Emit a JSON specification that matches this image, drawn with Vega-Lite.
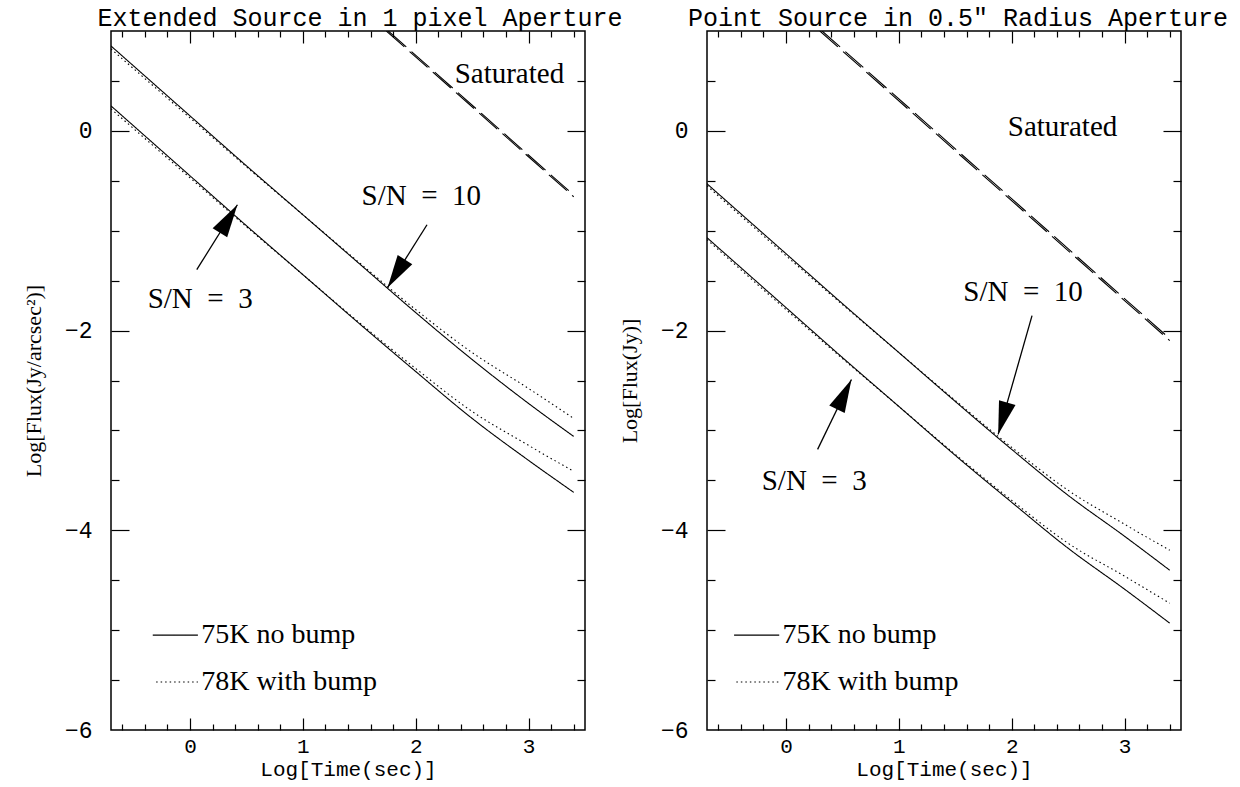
{
  "$schema": "https://vega.github.io/schema/vega-lite/v6.json",
  "autosize": {"type": "pad"},
  "padding": {"left": 21, "top": 5, "right": 0, "bottom": 0},
  "background": "white",
  "spacing": 122,
  "bounds": "flush",
  "datasets": {
    "curves": [
      {"panel": "ext", "model": "75K no bump", "sn": "10", "x": -0.7, "y": 0.85},
      {"panel": "ext", "model": "75K no bump", "sn": "10", "x": 0, "y": 0.15},
      {"panel": "ext", "model": "75K no bump", "sn": "10", "x": 0.5, "y": -0.35},
      {"panel": "ext", "model": "75K no bump", "sn": "10", "x": 1, "y": -0.84},
      {"panel": "ext", "model": "75K no bump", "sn": "10", "x": 1.5, "y": -1.33},
      {"panel": "ext", "model": "75K no bump", "sn": "10", "x": 2, "y": -1.82},
      {"panel": "ext", "model": "75K no bump", "sn": "10", "x": 2.5, "y": -2.29},
      {"panel": "ext", "model": "75K no bump", "sn": "10", "x": 3, "y": -2.73},
      {"panel": "ext", "model": "75K no bump", "sn": "10", "x": 3.4, "y": -3.06},
      {"panel": "ext", "model": "78K with bump", "sn": "10", "x": -0.7, "y": 0.82},
      {"panel": "ext", "model": "78K with bump", "sn": "10", "x": 0, "y": 0.13},
      {"panel": "ext", "model": "78K with bump", "sn": "10", "x": 0.5, "y": -0.36},
      {"panel": "ext", "model": "78K with bump", "sn": "10", "x": 1, "y": -0.84},
      {"panel": "ext", "model": "78K with bump", "sn": "10", "x": 1.5, "y": -1.32},
      {"panel": "ext", "model": "78K with bump", "sn": "10", "x": 2, "y": -1.79},
      {"panel": "ext", "model": "78K with bump", "sn": "10", "x": 2.5, "y": -2.22},
      {"panel": "ext", "model": "78K with bump", "sn": "10", "x": 3, "y": -2.58},
      {"panel": "ext", "model": "78K with bump", "sn": "10", "x": 3.4, "y": -2.88},
      {"panel": "ext", "model": "75K no bump", "sn": "3", "x": -0.7, "y": 0.25},
      {"panel": "ext", "model": "75K no bump", "sn": "3", "x": 0, "y": -0.45},
      {"panel": "ext", "model": "75K no bump", "sn": "3", "x": 0.5, "y": -0.95},
      {"panel": "ext", "model": "75K no bump", "sn": "3", "x": 1, "y": -1.44},
      {"panel": "ext", "model": "75K no bump", "sn": "3", "x": 1.5, "y": -1.93},
      {"panel": "ext", "model": "75K no bump", "sn": "3", "x": 2, "y": -2.41},
      {"panel": "ext", "model": "75K no bump", "sn": "3", "x": 2.5, "y": -2.88},
      {"panel": "ext", "model": "75K no bump", "sn": "3", "x": 3, "y": -3.3},
      {"panel": "ext", "model": "75K no bump", "sn": "3", "x": 3.4, "y": -3.62},
      {"panel": "ext", "model": "78K with bump", "sn": "3", "x": -0.7, "y": 0.22},
      {"panel": "ext", "model": "78K with bump", "sn": "3", "x": 0, "y": -0.47},
      {"panel": "ext", "model": "78K with bump", "sn": "3", "x": 0.5, "y": -0.96},
      {"panel": "ext", "model": "78K with bump", "sn": "3", "x": 1, "y": -1.44},
      {"panel": "ext", "model": "78K with bump", "sn": "3", "x": 1.5, "y": -1.92},
      {"panel": "ext", "model": "78K with bump", "sn": "3", "x": 2, "y": -2.38},
      {"panel": "ext", "model": "78K with bump", "sn": "3", "x": 2.5, "y": -2.81},
      {"panel": "ext", "model": "78K with bump", "sn": "3", "x": 3, "y": -3.15},
      {"panel": "ext", "model": "78K with bump", "sn": "3", "x": 3.4, "y": -3.41},
      {"panel": "pt", "model": "75K no bump", "sn": "10", "x": -0.7, "y": -0.53},
      {"panel": "pt", "model": "75K no bump", "sn": "10", "x": 0, "y": -1.23},
      {"panel": "pt", "model": "75K no bump", "sn": "10", "x": 0.5, "y": -1.73},
      {"panel": "pt", "model": "75K no bump", "sn": "10", "x": 1, "y": -2.22},
      {"panel": "pt", "model": "75K no bump", "sn": "10", "x": 1.5, "y": -2.71},
      {"panel": "pt", "model": "75K no bump", "sn": "10", "x": 2, "y": -3.19},
      {"panel": "pt", "model": "75K no bump", "sn": "10", "x": 2.5, "y": -3.65},
      {"panel": "pt", "model": "75K no bump", "sn": "10", "x": 3, "y": -4.06},
      {"panel": "pt", "model": "75K no bump", "sn": "10", "x": 3.4, "y": -4.4},
      {"panel": "pt", "model": "78K with bump", "sn": "10", "x": -0.7, "y": -0.55},
      {"panel": "pt", "model": "78K with bump", "sn": "10", "x": 0, "y": -1.25},
      {"panel": "pt", "model": "78K with bump", "sn": "10", "x": 0.5, "y": -1.74},
      {"panel": "pt", "model": "78K with bump", "sn": "10", "x": 1, "y": -2.22},
      {"panel": "pt", "model": "78K with bump", "sn": "10", "x": 1.5, "y": -2.7},
      {"panel": "pt", "model": "78K with bump", "sn": "10", "x": 2, "y": -3.17},
      {"panel": "pt", "model": "78K with bump", "sn": "10", "x": 2.5, "y": -3.6},
      {"panel": "pt", "model": "78K with bump", "sn": "10", "x": 3, "y": -3.94},
      {"panel": "pt", "model": "78K with bump", "sn": "10", "x": 3.4, "y": -4.2},
      {"panel": "pt", "model": "75K no bump", "sn": "3", "x": -0.7, "y": -1.07},
      {"panel": "pt", "model": "75K no bump", "sn": "3", "x": 0, "y": -1.77},
      {"panel": "pt", "model": "75K no bump", "sn": "3", "x": 0.5, "y": -2.27},
      {"panel": "pt", "model": "75K no bump", "sn": "3", "x": 1, "y": -2.76},
      {"panel": "pt", "model": "75K no bump", "sn": "3", "x": 1.5, "y": -3.25},
      {"panel": "pt", "model": "75K no bump", "sn": "3", "x": 2, "y": -3.72},
      {"panel": "pt", "model": "75K no bump", "sn": "3", "x": 2.5, "y": -4.18},
      {"panel": "pt", "model": "75K no bump", "sn": "3", "x": 3, "y": -4.59},
      {"panel": "pt", "model": "75K no bump", "sn": "3", "x": 3.4, "y": -4.93},
      {"panel": "pt", "model": "78K with bump", "sn": "3", "x": -0.7, "y": -1.09},
      {"panel": "pt", "model": "78K with bump", "sn": "3", "x": 0, "y": -1.79},
      {"panel": "pt", "model": "78K with bump", "sn": "3", "x": 0.5, "y": -2.28},
      {"panel": "pt", "model": "78K with bump", "sn": "3", "x": 1, "y": -2.76},
      {"panel": "pt", "model": "78K with bump", "sn": "3", "x": 1.5, "y": -3.24},
      {"panel": "pt", "model": "78K with bump", "sn": "3", "x": 2, "y": -3.7},
      {"panel": "pt", "model": "78K with bump", "sn": "3", "x": 2.5, "y": -4.13},
      {"panel": "pt", "model": "78K with bump", "sn": "3", "x": 3, "y": -4.46},
      {"panel": "pt", "model": "78K with bump", "sn": "3", "x": 3.4, "y": -4.73}
    ],
    "saturated": [
      {"panel": "ext", "model": "75K no bump", "x": 1.757, "y": 1},
      {"panel": "ext", "model": "75K no bump", "x": 3.4, "y": -0.643},
      {"panel": "ext", "model": "78K with bump", "x": 1.74, "y": 1},
      {"panel": "ext", "model": "78K with bump", "x": 3.4, "y": -0.66},
      {"panel": "pt", "model": "75K no bump", "x": 0.32, "y": 1},
      {"panel": "pt", "model": "75K no bump", "x": 3.4, "y": -2.08},
      {"panel": "pt", "model": "78K with bump", "x": 0.3, "y": 1},
      {"panel": "pt", "model": "78K with bump", "x": 3.4, "y": -2.1}
    ],
    "legendLines": [
      {"panel": "ext", "model": "75K no bump", "x": -0.33, "y": -5.05},
      {"panel": "ext", "model": "75K no bump", "x": 0.07, "y": -5.05},
      {"panel": "ext", "model": "78K with bump", "x": -0.3, "y": -5.52},
      {"panel": "ext", "model": "78K with bump", "x": 0.07, "y": -5.52},
      {"panel": "pt", "model": "75K no bump", "x": -0.46, "y": -5.05},
      {"panel": "pt", "model": "75K no bump", "x": -0.06, "y": -5.05},
      {"panel": "pt", "model": "78K with bump", "x": -0.44, "y": -5.52},
      {"panel": "pt", "model": "78K with bump", "x": -0.06, "y": -5.52}
    ],
    "legendText": [
      {"panel": "ext", "text": "75K no bump", "x": 0.1, "y": -5.05},
      {"panel": "ext", "text": "78K with bump", "x": 0.1, "y": -5.52},
      {"panel": "pt", "text": "75K no bump", "x": -0.03, "y": -5.05},
      {"panel": "pt", "text": "78K with bump", "x": -0.03, "y": -5.52}
    ],
    "notes": [
      {"panel": "ext", "text": "Saturated", "x": 2.83, "y": 0.57},
      {"panel": "ext", "text": "S/N\u2002=\u200210", "x": 2.05, "y": -0.65},
      {"panel": "ext", "text": "S/N\u2002=\u20023", "x": 0.09, "y": -1.68},
      {"panel": "pt", "text": "Saturated", "x": 2.45, "y": 0.04},
      {"panel": "pt", "text": "S/N\u2002=\u200210", "x": 2.1, "y": -1.61},
      {"panel": "pt", "text": "S/N\u2002=\u20023", "x": 0.25, "y": -3.51}
    ],
    "arrows": [
      {"panel": "ext", "sn": "10", "headX": 1.75, "headY": -1.57, "tailX": 2.1, "tailY": -0.94},
      {"panel": "ext", "sn": "3", "headX": 0.42, "headY": -0.74, "tailX": 0.06, "tailY": -1.39},
      {"panel": "pt", "sn": "10", "headX": 1.88, "headY": -3.04, "tailX": 2.18, "tailY": -1.85},
      {"panel": "pt", "sn": "3", "headX": 0.58, "headY": -2.49, "tailX": 0.28, "tailY": -3.19}
    ]
  },
  "hconcat": [
    {
      "width": 474,
      "height": 699,
      "title": {"text": "Extended Source in 1 pixel Aperture", "font": "Liberation Mono", "fontSize": 25, "fontWeight": "normal", "color": "black", "offset": -21, "baseline": "alphabetic", "anchor": "middle", "frame": "group", "dx": 12},
      "resolve": {"axis": {"x": "independent", "y": "independent"}},
      "layer": [
        {
          "data": {"name": "curves"},
          "transform": [{"filter": "datum.panel === 'ext'"}],
          "mark": {"type": "line", "color": "black", "strokeWidth": 1.1, "clip": true, "interpolate": "monotone"},
          "encoding": {
            "x": {"field": "x", "type": "quantitative", "scale": {"domain": [-0.7, 3.5], "nice": false, "zero": false},
              "axis": {"orient": "bottom", "values": [0, 1, 2, 3], "format": "d", "ticks": false,
                "labelFont": "Liberation Mono", "labelFontSize": 21, "labelPadding": 5, "labelOverlap": false, "labelFlush": false,
                "title": "Log[Time(sec)]", "titleFont": "Liberation Mono", "titleFontSize": 21, "titleFontWeight": "normal", "titlePadding": 2}},
            "y": {"field": "y", "type": "quantitative", "scale": {"domain": [-6, 1], "nice": false, "zero": false},
              "axis": {"orient": "left", "values": [-6, -4, -2, 0], "format": "d", "ticks": false,
                "labelFont": "Liberation Mono", "labelFontSize": 23, "labelPadding": 19, "labelOverlap": false, "labelFlush": false,
                "title": "Log[Flux(Jy/arcsec²)]", "titleFont": "Liberation Serif", "titleFontSize": 22, "titleFontWeight": "normal", "titlePadding": 19}},
            "detail": {"field": "sn"},
            "strokeDash": {"field": "model", "type": "nominal", "scale": {"domain": ["75K no bump", "78K with bump"], "range": [[1, 0], [1.5, 3]]}, "legend": null}
          }
        },
        {
          "data": {"name": "saturated"},
          "transform": [{"filter": "datum.panel === 'ext'"}],
          "mark": {"type": "line", "color": "black", "strokeWidth": 1.1, "strokeDash": [24, 7], "clip": true},
          "encoding": {
            "x": {"field": "x", "type": "quantitative", "scale": {"domain": [-0.7, 3.5], "nice": false, "zero": false},
              "axis": {"orient": "top", "values": [0, 1, 2, 3], "labels": false, "title": null, "tickSize": -12}},
            "y": {"field": "y", "type": "quantitative", "scale": {"domain": [-6, 1], "nice": false, "zero": false},
              "axis": {"orient": "right", "values": [-4, -2, 0], "labels": false, "title": null, "tickSize": -18}},
            "detail": {"field": "model"}
          }
        },
        {
          "data": {"name": "legendLines"},
          "transform": [{"filter": "datum.panel === 'ext'"}],
          "mark": {"type": "line", "color": "black", "strokeWidth": 1.1},
          "encoding": {
            "x": {"field": "x", "type": "quantitative", "scale": {"domain": [-0.7, 3.5], "nice": false, "zero": false},
              "axis": {"orient": "bottom", "values": [0, 1, 2, 3], "labels": false, "title": null, "tickSize": -12}},
            "y": {"field": "y", "type": "quantitative", "scale": {"domain": [-6, 1], "nice": false, "zero": false},
              "axis": {"orient": "left", "values": [-4, -2, 0], "labels": false, "title": null, "tickSize": -18}},
            "strokeDash": {"field": "model", "type": "nominal", "scale": {"domain": ["75K no bump", "78K with bump"], "range": [[1, 0], [1.5, 3]]}, "legend": null}
          }
        },
        {
          "data": {"name": "arrows"},
          "transform": [{"filter": "datum.panel === 'ext'"}],
          "mark": {"type": "rule", "color": "black", "strokeWidth": 1.3},
          "encoding": {
            "x": {"field": "tailX", "type": "quantitative", "scale": {"domain": [-0.7, 3.5], "nice": false, "zero": false},
              "axis": {"orient": "bottom", "values": [-0.6, -0.4, -0.2, 0.2, 0.4, 0.6, 0.8, 1.2, 1.4, 1.6, 1.8, 2.2, 2.4, 2.6, 2.8, 3.2, 3.4], "labels": false, "title": null, "tickSize": -6}},
            "y": {"field": "tailY", "type": "quantitative", "scale": {"domain": [-6, 1], "nice": false, "zero": false},
              "axis": {"orient": "left", "values": [-5.5, -5, -4.5, -3.5, -3, -2.5, -1.5, -1, -0.5, 0.5], "labels": false, "title": null, "tickSize": -8}},
            "x2": {"field": "headX"},
            "y2": {"field": "headY"}
          }
        },
        {
          "data": {"name": "arrows"},
          "transform": [{"filter": "datum.panel === 'ext' && datum.sn === '10'"}],
          "mark": {"type": "point", "shape": "M0,0L-0.26,1L0.26,1Z", "filled": true, "color": "black", "opacity": 1, "size": 4356, "angle": 212},
          "encoding": {
            "x": {"field": "headX", "type": "quantitative", "scale": {"domain": [-0.7, 3.5], "nice": false, "zero": false},
              "axis": {"orient": "top", "values": [-0.6, -0.4, -0.2, 0.2, 0.4, 0.6, 0.8, 1.2, 1.4, 1.6, 1.8, 2.2, 2.4, 2.6, 2.8, 3.2, 3.4], "labels": false, "title": null, "tickSize": -6}},
            "y": {"field": "headY", "type": "quantitative", "scale": {"domain": [-6, 1], "nice": false, "zero": false},
              "axis": {"orient": "right", "values": [-5.5, -5, -4.5, -3.5, -3, -2.5, -1.5, -1, -0.5, 0.5], "labels": false, "title": null, "tickSize": -8}}
          }
        },
        {
          "data": {"name": "arrows"},
          "transform": [{"filter": "datum.panel === 'ext' && datum.sn === '3'"}],
          "mark": {"type": "point", "shape": "M0,0L-0.26,1L0.26,1Z", "filled": true, "color": "black", "opacity": 1, "size": 4356, "angle": 32},
          "encoding": {
            "x": {"field": "headX", "type": "quantitative", "scale": {"domain": [-0.7, 3.5], "nice": false, "zero": false}, "axis": null},
            "y": {"field": "headY", "type": "quantitative", "scale": {"domain": [-6, 1], "nice": false, "zero": false}, "axis": null}
          }
        },
        {
          "data": {"name": "notes"},
          "transform": [{"filter": "datum.panel === 'ext'"}],
          "mark": {"type": "text", "font": "Liberation Serif", "fontSize": 29, "align": "center", "baseline": "middle", "color": "black"},
          "encoding": {
            "x": {"field": "x", "type": "quantitative", "scale": {"domain": [-0.7, 3.5], "nice": false, "zero": false}, "axis": null},
            "y": {"field": "y", "type": "quantitative", "scale": {"domain": [-6, 1], "nice": false, "zero": false}, "axis": null},
            "text": {"field": "text"}
          }
        },
        {
          "data": {"name": "legendText"},
          "transform": [{"filter": "datum.panel === 'ext'"}],
          "mark": {"type": "text", "font": "Liberation Serif", "fontSize": 28, "align": "left", "baseline": "middle", "color": "black"},
          "encoding": {
            "x": {"field": "x", "type": "quantitative", "scale": {"domain": [-0.7, 3.5], "nice": false, "zero": false}, "axis": null},
            "y": {"field": "y", "type": "quantitative", "scale": {"domain": [-6, 1], "nice": false, "zero": false}, "axis": null},
            "text": {"field": "text"}
          }
        }
      ]
    },
    {
      "width": 474,
      "height": 699,
      "title": {"text": "Point Source in 0.5″ Radius Aperture", "font": "Liberation Mono", "fontSize": 25, "fontWeight": "normal", "color": "black", "offset": -21, "baseline": "alphabetic", "anchor": "middle", "frame": "group", "dx": 14},
      "resolve": {"axis": {"x": "independent", "y": "independent"}},
      "layer": [
        {
          "data": {"name": "curves"},
          "transform": [{"filter": "datum.panel === 'pt'"}],
          "mark": {"type": "line", "color": "black", "strokeWidth": 1.1, "clip": true, "interpolate": "monotone"},
          "encoding": {
            "x": {"field": "x", "type": "quantitative", "scale": {"domain": [-0.7, 3.5], "nice": false, "zero": false},
              "axis": {"orient": "bottom", "values": [0, 1, 2, 3], "format": "d", "ticks": false,
                "labelFont": "Liberation Mono", "labelFontSize": 21, "labelPadding": 5, "labelOverlap": false, "labelFlush": false,
                "title": "Log[Time(sec)]", "titleFont": "Liberation Mono", "titleFontSize": 21, "titleFontWeight": "normal", "titlePadding": 2}},
            "y": {"field": "y", "type": "quantitative", "scale": {"domain": [-6, 1], "nice": false, "zero": false},
              "axis": {"orient": "left", "values": [-6, -4, -2, 0], "format": "d", "ticks": false,
                "labelFont": "Liberation Mono", "labelFontSize": 23, "labelPadding": 19, "labelOverlap": false, "labelFlush": false,
                "title": "Log[Flux(Jy)]", "titleFont": "Liberation Serif", "titleFontSize": 22, "titleFontWeight": "normal", "titlePadding": 19}},
            "detail": {"field": "sn"},
            "strokeDash": {"field": "model", "type": "nominal", "scale": {"domain": ["75K no bump", "78K with bump"], "range": [[1, 0], [1.5, 3]]}, "legend": null}
          }
        },
        {
          "data": {"name": "saturated"},
          "transform": [{"filter": "datum.panel === 'pt'"}],
          "mark": {"type": "line", "color": "black", "strokeWidth": 1.1, "strokeDash": [24, 7], "clip": true},
          "encoding": {
            "x": {"field": "x", "type": "quantitative", "scale": {"domain": [-0.7, 3.5], "nice": false, "zero": false},
              "axis": {"orient": "top", "values": [0, 1, 2, 3], "labels": false, "title": null, "tickSize": -12}},
            "y": {"field": "y", "type": "quantitative", "scale": {"domain": [-6, 1], "nice": false, "zero": false},
              "axis": {"orient": "right", "values": [-4, -2, 0], "labels": false, "title": null, "tickSize": -18}},
            "detail": {"field": "model"}
          }
        },
        {
          "data": {"name": "legendLines"},
          "transform": [{"filter": "datum.panel === 'pt'"}],
          "mark": {"type": "line", "color": "black", "strokeWidth": 1.1},
          "encoding": {
            "x": {"field": "x", "type": "quantitative", "scale": {"domain": [-0.7, 3.5], "nice": false, "zero": false},
              "axis": {"orient": "bottom", "values": [0, 1, 2, 3], "labels": false, "title": null, "tickSize": -12}},
            "y": {"field": "y", "type": "quantitative", "scale": {"domain": [-6, 1], "nice": false, "zero": false},
              "axis": {"orient": "left", "values": [-4, -2, 0], "labels": false, "title": null, "tickSize": -18}},
            "strokeDash": {"field": "model", "type": "nominal", "scale": {"domain": ["75K no bump", "78K with bump"], "range": [[1, 0], [1.5, 3]]}, "legend": null}
          }
        },
        {
          "data": {"name": "arrows"},
          "transform": [{"filter": "datum.panel === 'pt'"}],
          "mark": {"type": "rule", "color": "black", "strokeWidth": 1.3},
          "encoding": {
            "x": {"field": "tailX", "type": "quantitative", "scale": {"domain": [-0.7, 3.5], "nice": false, "zero": false},
              "axis": {"orient": "bottom", "values": [-0.6, -0.4, -0.2, 0.2, 0.4, 0.6, 0.8, 1.2, 1.4, 1.6, 1.8, 2.2, 2.4, 2.6, 2.8, 3.2, 3.4], "labels": false, "title": null, "tickSize": -6}},
            "y": {"field": "tailY", "type": "quantitative", "scale": {"domain": [-6, 1], "nice": false, "zero": false},
              "axis": {"orient": "left", "values": [-5.5, -5, -4.5, -3.5, -3, -2.5, -1.5, -1, -0.5, 0.5], "labels": false, "title": null, "tickSize": -8}},
            "x2": {"field": "headX"},
            "y2": {"field": "headY"}
          }
        },
        {
          "data": {"name": "arrows"},
          "transform": [{"filter": "datum.panel === 'pt' && datum.sn === '10'"}],
          "mark": {"type": "point", "shape": "M0,0L-0.26,1L0.26,1Z", "filled": true, "color": "black", "opacity": 1, "size": 4356, "angle": 196},
          "encoding": {
            "x": {"field": "headX", "type": "quantitative", "scale": {"domain": [-0.7, 3.5], "nice": false, "zero": false},
              "axis": {"orient": "top", "values": [-0.6, -0.4, -0.2, 0.2, 0.4, 0.6, 0.8, 1.2, 1.4, 1.6, 1.8, 2.2, 2.4, 2.6, 2.8, 3.2, 3.4], "labels": false, "title": null, "tickSize": -6}},
            "y": {"field": "headY", "type": "quantitative", "scale": {"domain": [-6, 1], "nice": false, "zero": false},
              "axis": {"orient": "right", "values": [-5.5, -5, -4.5, -3.5, -3, -2.5, -1.5, -1, -0.5, 0.5], "labels": false, "title": null, "tickSize": -8}}
          }
        },
        {
          "data": {"name": "arrows"},
          "transform": [{"filter": "datum.panel === 'pt' && datum.sn === '3'"}],
          "mark": {"type": "point", "shape": "M0,0L-0.26,1L0.26,1Z", "filled": true, "color": "black", "opacity": 1, "size": 4356, "angle": 26},
          "encoding": {
            "x": {"field": "headX", "type": "quantitative", "scale": {"domain": [-0.7, 3.5], "nice": false, "zero": false}, "axis": null},
            "y": {"field": "headY", "type": "quantitative", "scale": {"domain": [-6, 1], "nice": false, "zero": false}, "axis": null}
          }
        },
        {
          "data": {"name": "notes"},
          "transform": [{"filter": "datum.panel === 'pt'"}],
          "mark": {"type": "text", "font": "Liberation Serif", "fontSize": 29, "align": "center", "baseline": "middle", "color": "black"},
          "encoding": {
            "x": {"field": "x", "type": "quantitative", "scale": {"domain": [-0.7, 3.5], "nice": false, "zero": false}, "axis": null},
            "y": {"field": "y", "type": "quantitative", "scale": {"domain": [-6, 1], "nice": false, "zero": false}, "axis": null},
            "text": {"field": "text"}
          }
        },
        {
          "data": {"name": "legendText"},
          "transform": [{"filter": "datum.panel === 'pt'"}],
          "mark": {"type": "text", "font": "Liberation Serif", "fontSize": 28, "align": "left", "baseline": "middle", "color": "black"},
          "encoding": {
            "x": {"field": "x", "type": "quantitative", "scale": {"domain": [-0.7, 3.5], "nice": false, "zero": false}, "axis": null},
            "y": {"field": "y", "type": "quantitative", "scale": {"domain": [-6, 1], "nice": false, "zero": false}, "axis": null},
            "text": {"field": "text"}
          }
        }
      ]
    }
  ],
  "config": {
    "view": {"stroke": "black", "strokeWidth": 1.5},
    "axis": {"domain": false, "grid": false, "tickColor": "black", "tickWidth": 1.2, "labelColor": "black", "titleColor": "black"}
  }
}
